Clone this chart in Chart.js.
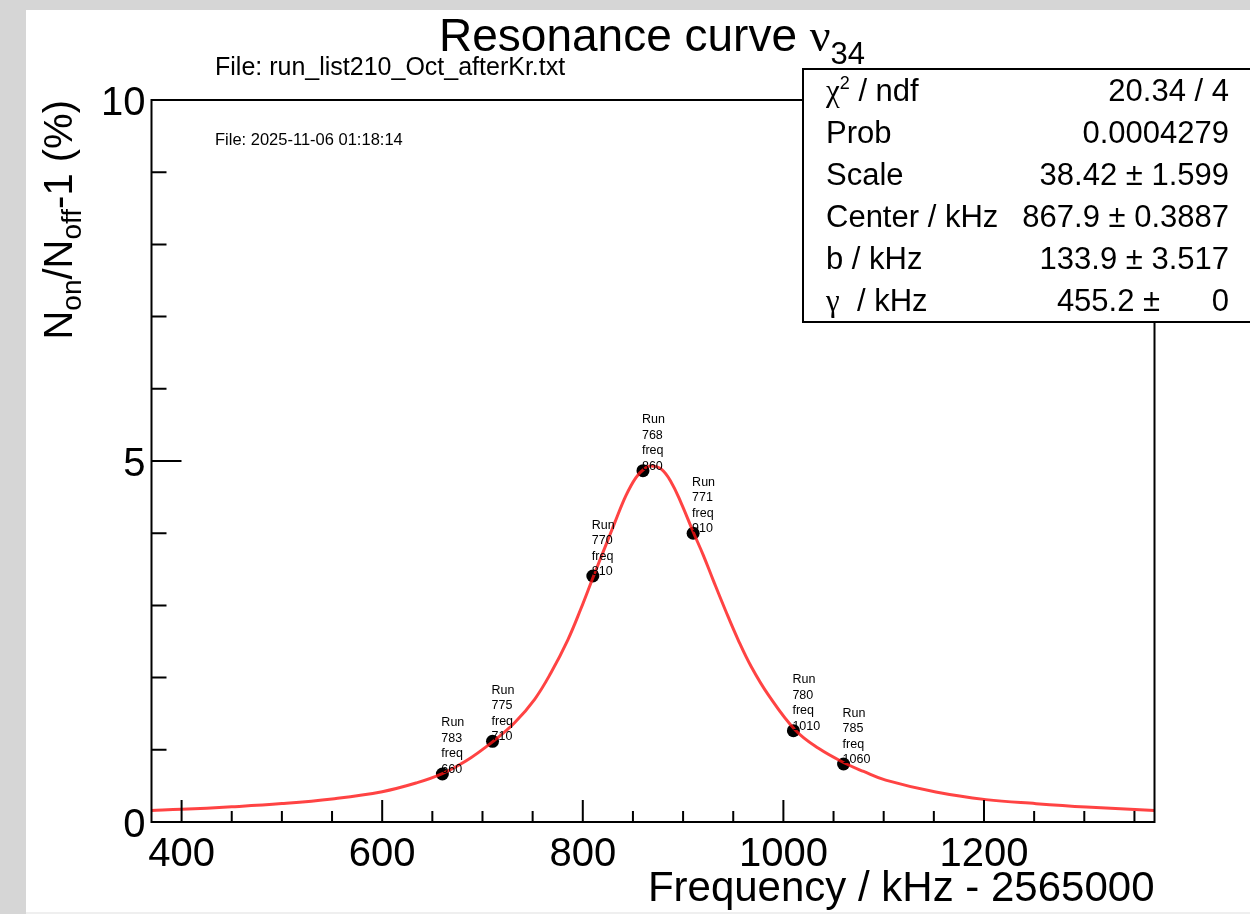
<!DOCTYPE html>
<html>
<head>
<meta charset="utf-8">
<title>Resonance curve</title>
<script src="https://cdn.jsdelivr.net/npm/chart.js@4.4.1/dist/chart.umd.min.js"></script>
<style>
  html, body { margin: 0; padding: 0; background: #d6d6d6; overflow: hidden; }
</style>
</head>
<body>
<canvas id="resonancia" width="1250" height="914"></canvas>
<script>
// puntos medidos (frecuencia - 2565000 kHz, Non/Noff - 1 en %)
const freqPuntos = [660, 710, 810, 860, 910, 1010, 1060];
const valoresPuntos = [0.665, 1.118, 3.407, 4.866, 3.999, 1.265, 0.803];
const runs = ["783", "775", "770", "768", "771", "780", "785"];

// curva de ajuste
const freqAjuste = [
  370, 400, 450, 500, 550, 600, 635, 660, 683, 710, 732, 752, 768, 785, 798,
  810, 822, 832, 843, 853, 862, 868, 878, 888, 898, 910, 920, 930, 942, 955,
  968, 985, 1012, 1035, 1062, 1080, 1102, 1152, 1202, 1252, 1302, 1370,
];
const valoresAjuste = [
  0.16, 0.175, 0.21, 0.255, 0.32, 0.42, 0.545, 0.67, 0.84, 1.11, 1.375, 1.7,
  2.06, 2.52, 2.95, 3.38, 3.8, 4.15, 4.52, 4.77, 4.9, 4.93, 4.89, 4.71, 4.42,
  4.02, 3.7, 3.35, 2.94, 2.52, 2.15, 1.76, 1.27, 1.02, 0.81, 0.7, 0.58, 0.415,
  0.31, 0.254, 0.208, 0.16,
];

const ticksX = [400, 600, 800, 1000, 1200];
const ticksY = [0, 5, 10];

const statsNombres = ["chi2", "Prob", "Scale", "Center / kHz", "b / kHz", "gamma"];
const statsValores = [
  "20.34 / 4",
  "0.0004279",
  "38.42 \u00b1 1.599",
  "867.9 \u00b1 0.3887",
  "133.9 \u00b1 3.517",
  "455.2 \u00b1      0",
];

const SANS = '"Liberation Sans", Arial, Helvetica, sans-serif';
const SERIF = '"Liberation Serif", "Times New Roman", serif';
const colorFondo = "#d6d6d6";
const colorCurva = "rgba(255, 20, 20, 0.8)";

function ancho(ctx, partes) {
  let w = 0;
  for (const p of partes) {
    ctx.font = p[1];
    w += ctx.measureText(p[0]).width;
  }
  return w;
}

function texto(ctx, partes, x, y) {
  let cx = x;
  for (const p of partes) {
    ctx.font = p[1];
    ctx.fillText(p[0], cx, y + (p[2] || 0));
    cx += ctx.measureText(p[0]).width;
  }
}

const marco = {
  id: "marco",
  beforeDraw(chart) {
    const ctx = chart.ctx;
    ctx.save();
    ctx.fillStyle = colorFondo;
    ctx.fillRect(0, 0, chart.width, chart.height);
    ctx.fillStyle = "#ffffff";
    ctx.fillRect(26, 10, chart.width - 26, 902);
    ctx.restore();
  },
  afterDatasetsDraw(chart) {
    const ctx = chart.ctx;
    const xs = chart.scales.x;
    const ys = chart.scales.y;
    const { left, right, top, bottom } = chart.chartArea;
    ctx.save();
    ctx.strokeStyle = "#000";
    ctx.fillStyle = "#000";

    // etiquetas de cada punto
    const meta = chart.getDatasetMeta(1);
    ctx.font = "12.5px " + SANS;
    ctx.textAlign = "left";
    ctx.textBaseline = "alphabetic";
    meta.data.forEach((pt, i) => {
      const lineas = ["Run", runs[i], "freq", String(freqPuntos[i])];
      lineas.forEach((l, j) => {
        ctx.fillText(l, pt.x - 1, pt.y - 1 - (3 - j) * 15.5);
      });
    });

    // marco
    ctx.lineWidth = 2;
    ctx.strokeRect(left, top, right - left, bottom - top);

    // ticks eje x (hacia dentro)
    ctx.beginPath();
    for (let v = 400; v <= 1370; v += 50) {
      const px = xs.getPixelForValue(v);
      const largo = v % 200 === 0 ? 22 : 11;
      ctx.moveTo(px, bottom);
      ctx.lineTo(px, bottom - largo);
    }
    // ticks eje y
    for (let v = 0; v <= 10; v += 1) {
      const py = ys.getPixelForValue(v);
      const largo = v % 5 === 0 ? 30 : 15;
      ctx.moveTo(left, py);
      ctx.lineTo(left + largo, py);
    }
    ctx.stroke();

    // numeros de los ejes
    ctx.font = "40px " + SANS;
    ctx.textAlign = "center";
    ticksX.forEach((v) => {
      ctx.fillText(String(v), xs.getPixelForValue(v), bottom + 44);
    });
    ctx.textAlign = "right";
    ticksY.forEach((v) => {
      ctx.fillText(String(v), left - 6, ys.getPixelForValue(v) + 15);
    });

    // titulo eje x
    ctx.font = "42px " + SANS;
    ctx.fillText("Frequency / kHz - 2565000", right, 901);

    // titulo eje y (rotado)
    ctx.textAlign = "left";
    const f40 = "40px " + SANS;
    const f28 = "28px " + SANS;
    const partesY = [
      ["N", f40, 0],
      ["on", f28, 9],
      ["/N", f40, 0],
      ["off", f28, 9],
      ["-1 (%)", f40, 0],
    ];
    ctx.save();
    ctx.translate(72, top);
    ctx.rotate(-Math.PI / 2);
    texto(ctx, partesY, -ancho(ctx, partesY), 0);
    ctx.restore();

    // titulo
    texto(
      ctx,
      [
        ["Resonance curve ", "46px " + SANS, 0],
        ["\u03bd", "46px " + SERIF, 0],
        ["34", "31px " + SANS, 13],
      ],
      439,
      51
    );
    ctx.font = "25px " + SANS;
    ctx.fillText("File: run_list210_Oct_afterKr.txt", 215, 75);
    ctx.font = "16.5px " + SANS;
    ctx.fillText("File: 2025-11-06 01:18:14", 215, 145);

    // caja de estadisticas
    ctx.fillStyle = "#ffffff";
    ctx.fillRect(803, 69, 460, 253);
    ctx.lineWidth = 2;
    ctx.strokeRect(803, 69, 460, 253);
    ctx.fillStyle = "#000";
    const f31 = "31px " + SANS;
    statsNombres.forEach((n, i) => {
      const y = 101 + i * 42;
      ctx.textAlign = "left";
      if (n === "chi2") {
        texto(ctx, [["\u03c7", "31px " + SERIF, 0], ["2", "18px " + SANS, -12], [" / ndf", f31, 0]], 826, y);
      } else if (n === "gamma") {
        texto(ctx, [["\u03b3", "31px " + SERIF, 0], ["  / kHz", f31, 0]], 826, y);
      } else {
        ctx.font = f31;
        ctx.fillText(n, 826, y);
      }
      ctx.font = f31;
      ctx.textAlign = "right";
      ctx.fillText(statsValores[i], 1229, y);
    });

    ctx.restore();
  },
  afterDraw(chart) {
    const ctx = chart.ctx;
    ctx.save();
    ctx.fillStyle = "#efefef";
    ctx.fillRect(26, 912, chart.width - 26, 2);
    ctx.restore();
  },
};

function grafico_resonancia() {
  const ctx = document.getElementById("resonancia");

  const curva = freqAjuste.map((f, i) => ({ x: f, y: valoresAjuste[i] }));
  const puntos = freqPuntos.map((f, i) => ({ x: f, y: valoresPuntos[i] }));

  new Chart(ctx, {
    type: "scatter",
    data: {
      datasets: [
        {
          label: "Ajuste",
          data: curva,
          showLine: true,
          borderColor: colorCurva,
          borderWidth: 3,
          pointRadius: 0,
          tension: 0.4,
          order: 0,
        },
        {
          label: "Runs",
          data: puntos,
          backgroundColor: "#000",
          borderWidth: 0,
          pointRadius: 6.5,
          order: 1,
        },
      ],
    },
    options: {
      responsive: false,
      animation: false,
      events: [],
      layout: {
        padding: { left: 151.5, right: 95.5, top: 100, bottom: 92 },
      },
      plugins: {
        legend: { display: false },
        tooltip: { enabled: false },
      },
      scales: {
        x: { type: "linear", min: 370, max: 1370, display: false },
        y: { type: "linear", min: 0, max: 10, display: false },
      },
    },
    plugins: [marco],
  });
}

grafico_resonancia();
</script>
</body>
</html>
